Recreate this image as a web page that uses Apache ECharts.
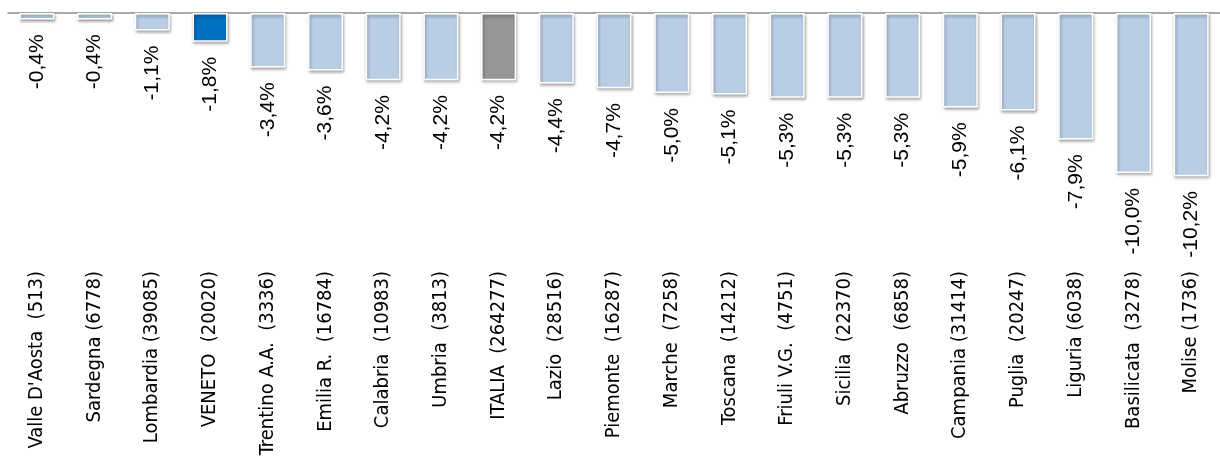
<!DOCTYPE html>
<html>
<head>
<meta charset="utf-8">
<script src="https://cdn.jsdelivr.net/npm/echarts@6/dist/echarts.min.js"></script>
<style>
  html, body { margin: 0; padding: 0; background: #fff; }
  #chart { width: 1220px; height: 460px; }
</style>
</head>
<body>
<div id="chart"></div>
<script>
// regions with number of units in brackets
const categories = [
  "Valle D'Aosta  (513)", 'Sardegna (6778)', 'Lombardia (39085)', 'VENETO  (20020)',
  'Trentino A.A.  (3336)', 'Emilia R.  (16784)', 'Calabria  (10983)', 'Umbria  (3813)',
  'ITALIA  (264277)', 'Lazio  (28516)', 'Piemonte  (16287)', 'Marche  (7258)',
  'Toscana  (14212)', 'Friuli V.G.  (4751)', 'Sicilia  (22370)', 'Abruzzo  (6858)',
  'Campania (31414)', 'Puglia  (20247)', 'Liguria (6038)', 'Basilicata  (3278)', 'Molise (1736)'
]
const changes = [
  -0.4, -0.4, -1.1, -1.8, -3.4, -3.6, -4.2, -4.2, -4.2, -4.4, -4.7,
  -5.0, -5.1, -5.3, -5.3, -5.3, -5.9, -6.1, -7.9, -10.0, -10.2
]
const highlight = { 'VENETO  (20020)': '#0070c0', 'ITALIA  (264277)': '#969696' }

const chart = echarts.init(document.getElementById('chart'))

const option = {
  animation: false,
  grid: { left: 8, top: 13, width: 1228, height: 256 },
  xAxis: [
    {
      type: 'category',
      data: categories,
      position: 'bottom',
      axisLine: { show: false, onZero: false },
      axisTick: { show: false },
      axisLabel: {
        interval: 0,
        rotate: 90,
        margin: 2,
        color: '#000',
        fontSize: 20,
        fontFamily: 'DejaVu Sans Condensed'
      }
    },
    {
      type: 'category',
      data: categories,
      position: 'top',
      axisLine: { show: true, onZero: false, lineStyle: { color: '#8c8c8c', width: 1.5 } },
      axisTick: { show: false },
      axisLabel: { show: false }
    }
  ],
  yAxis: {
    type: 'value',
    min: -16,
    max: 0,
    show: false,
    splitLine: { show: false }
  },
  series: [
    {
      type: 'bar',
      data: changes.map((v, i) => ({
        value: v,
        itemStyle: { color: highlight[categories[i]] || '#b9cde5' }
      })),
      barWidth: 35,
      itemStyle: {
        borderColor: '#fff',
        borderWidth: 1.5,
        shadowColor: 'rgba(0,0,0,0.35)',
        shadowBlur: 3,
        shadowOffsetX: 1,
        shadowOffsetY: 2
      },
      label: {
        show: true,
        position: 'bottom',
        distance: 15,
        rotate: 90,
        align: 'right',
        verticalAlign: 'middle',
        color: '#000',
        fontSize: 21,
        fontFamily: 'Liberation Sans',
        formatter: p => p.value.toFixed(1).replace('.', ',') + '%'
      }
    }
  ]
}

chart.setOption(option)
</script>
</body>
</html>
